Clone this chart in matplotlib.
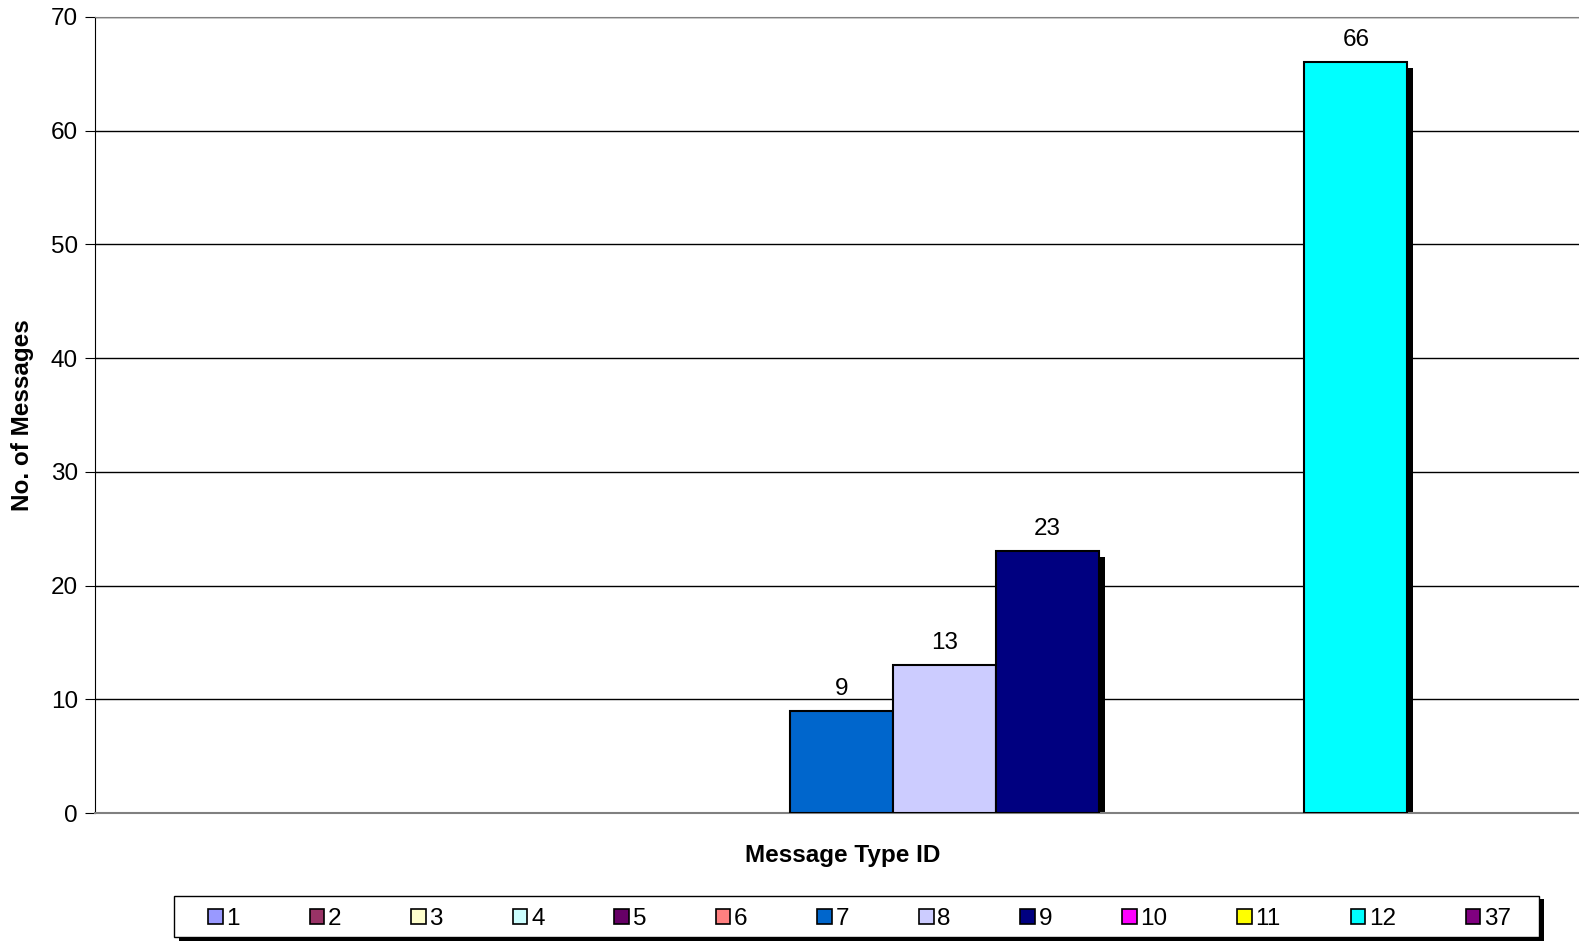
import matplotlib.pyplot as plt
from matplotlib.patches import Rectangle
import numpy as np

plt.rcParams['font.family'] = ['Liberation Sans', 'DejaVu Sans']

# one category, one bar per message type
type_ids = ['1', '2', '3', '4', '5', '6', '7', '8', '9', '10', '11', '12', '37']
counts = [0, 0, 0, 0, 0, 0, 9, 13, 23, 0, 0, 66, 0]
colors = ['#9999FF', '#993366', '#FFFFCC', '#CCFFFF', '#660066', '#FF8080',
          '#0066CC', '#CCCCFF', '#000080', '#FF00FF', '#FFFF00', '#00FFFF', '#800080']

fs = 17.5

fig = plt.figure(figsize=(15.79, 9.41), dpi=100)
ax = fig.add_axes([0.060, 0.136, 0.940, 0.846])

x = np.arange(len(type_ids)) - 6
for xi, v, c, name in zip(x, counts, colors, type_ids):
    lw = 1.5 if v > 0 else 0
    # shadow behind the bar (Excel style)
    if v > 0:
        ax.bar(xi + 0.06, v - 0.45, width=1.0, color='black', zorder=2)
    ax.bar(xi, v, width=1.0, color=c, edgecolor='black', linewidth=lw,
           zorder=3, label=name)
    if v > 0:
        ax.annotate(str(v), (xi, v), xytext=(0, 8), textcoords='offset points',
                    ha='center', va='bottom', fontsize=fs)

ax.set_xlim(-7.26, 7.17)
ax.set_ylim(0, 70)
ax.set_yticks(range(0, 71, 10))
ax.set_xticks([])
ax.grid(axis='y', color='black', linewidth=1, zorder=0)
ax.set_axisbelow(True)

ax.spines['right'].set_visible(False)
ax.spines['top'].set_color('#808080')
ax.spines['bottom'].set_color('#808080')
ax.spines['bottom'].set_linewidth(1.5)
ax.spines['left'].set_color('black')
ax.tick_params(axis='y', direction='out', length=7, labelsize=fs, pad=5)

ax.set_ylabel('No. of Messages', fontsize=fs, fontweight='bold', labelpad=12)
ax.set_xlabel('Message Type ID', fontsize=fs, fontweight='bold', labelpad=22)
ax.xaxis.label.set_x(0.504)

# legend frame + shadow drawn by hand
fig.patches.append(Rectangle((0.1135, -0.002), 0.8642, 0.0465, transform=fig.transFigure,
                             facecolor='black', edgecolor='none', zorder=1))
fig.patches.append(Rectangle((0.1103, 0.0043), 0.8642, 0.0439, transform=fig.transFigure,
                             facecolor='white', edgecolor='black', linewidth=1, zorder=2))

leg = fig.legend(loc='center', ncol=13, mode='expand',
                 bbox_to_anchor=(0.1318, 0.0013, 0.825, 0.0439),
                 fontsize=fs, frameon=False,
                 handlelength=0.6, handleheight=0.6, handletextpad=0.15,
                 borderpad=0.0, borderaxespad=0.0, columnspacing=1.0)
leg.set_zorder(3)
for h in leg.legend_handles:
    h.set_linewidth(1.2)
    h.set_edgecolor('black')

fig.savefig('out.png', dpi=100)
